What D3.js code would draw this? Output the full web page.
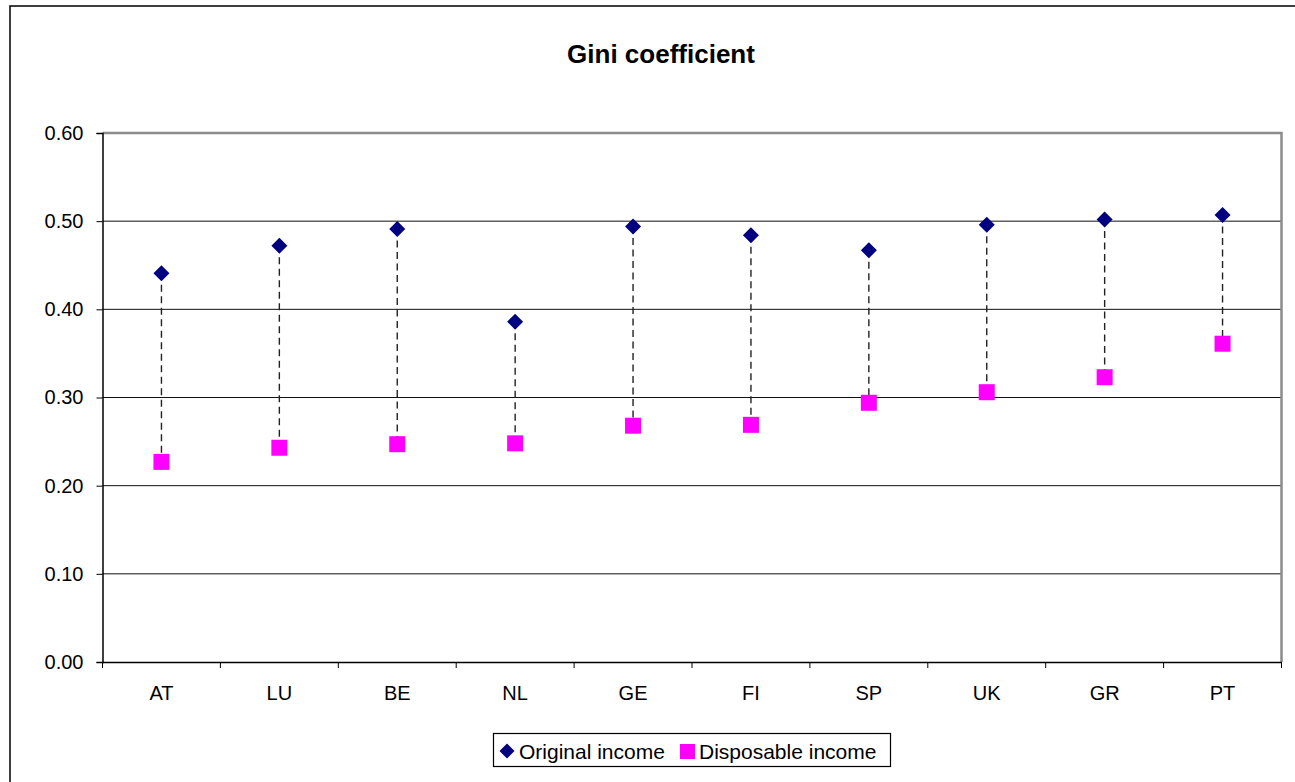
<!DOCTYPE html>
<html>
<head>
<meta charset="utf-8">
<script src="https://cdn.jsdelivr.net/npm/d3@7"></script>
<style>
  body { margin: 0; background: #fff; }
  svg { display: block; font-family: Arial, "Liberation Sans", sans-serif; }
</style>
</head>
<body>
<script>
const width = 1295;
const height = 782;
const marginTop = 133;
const marginRight = 13.5;
const marginBottom = 120;
const marginLeft = 102.5;

// countries, in the order of the chart
const countries = ["AT", "LU", "BE", "NL", "GE", "FI", "SP", "UK", "GR", "PT"];
// Gini on original (market) income
const original = [0.441, 0.472, 0.491, 0.386, 0.494, 0.484, 0.467, 0.496, 0.502, 0.507];
// Gini on disposable income
const disposable = [0.227, 0.243, 0.247, 0.248, 0.268, 0.269, 0.294, 0.306, 0.323, 0.361];
const yTicks = [0, 0.1, 0.2, 0.3, 0.4, 0.5, 0.6];

const rows = countries.map((c, i) => ({ country: c, orig: original[i], disp: disposable[i] }));

const x = d3.scaleBand(countries, [marginLeft, width - marginRight]).padding(0);
const y = d3.scaleLinear([0, 0.6], [height - marginBottom, marginTop]);
const cx = (c) => x(c) + x.bandwidth() / 2;

const svg = d3.select("body").append("svg")
  .attr("width", width)
  .attr("height", height);

// chart frame
svg.append("rect")
  .attr("x", 10).attr("y", 6)
  .attr("width", width).attr("height", height)
  .attr("fill", "none").attr("stroke", "#000").attr("stroke-width", 1.5);

// title
svg.append("text")
  .attr("x", 661).attr("y", 56)
  .attr("text-anchor", "middle").attr("dominant-baseline", "middle")
  .attr("font-weight", "bold").attr("font-size", 26)
  .text("Gini coefficient");

// gridlines
svg.append("g")
  .selectAll("line")
  .data(yTicks.filter((d) => d > 0 && d < 0.6))
  .join("line")
  .attr("x1", marginLeft).attr("x2", width - marginRight)
  .attr("y1", (d) => y(d)).attr("y2", (d) => y(d))
  .attr("stroke", "#111").attr("stroke-width", 1);

// plot area top/right border (grey)
svg.append("path")
  .attr("d", `M${marginLeft},${y(0.6)}H${width - marginRight}V${y(0)}`)
  .attr("fill", "none").attr("stroke", "#8c8c8c").attr("stroke-width", 2.5);

// y axis
const yAxis = svg.append("g")
  .attr("transform", `translate(${marginLeft},0)`)
  .call(d3.axisLeft(y).tickValues(yTicks).tickFormat(d3.format(".2f")).tickSize(6).tickPadding(13));
yAxis.select(".domain").attr("stroke", "#000").attr("stroke-width", 1.5);
yAxis.selectAll(".tick line").attr("stroke", "#000");
yAxis.selectAll("text").attr("font-size", 20).attr("fill", "#000")
  .attr("font-family", "Arial, 'Liberation Sans', sans-serif");

// x axis: ticks at category boundaries
const xAxis = svg.append("g")
  .attr("transform", `translate(0,${y(0)})`)
  .call(d3.axisBottom(x).tickSize(0).tickPadding(24));
xAxis.select(".domain").attr("stroke", "#000").attr("stroke-width", 1.5);
xAxis.selectAll("text").attr("font-size", 20).attr("fill", "#000")
  .attr("font-family", "Arial, 'Liberation Sans', sans-serif");
xAxis.append("g")
  .selectAll("line")
  .data(countries.concat([null]))
  .join("line")
  .attr("x1", (d, i) => marginLeft + i * x.bandwidth())
  .attr("x2", (d, i) => marginLeft + i * x.bandwidth())
  .attr("y1", 0).attr("y2", 6)
  .attr("stroke", "#000");

// high-low dashed lines
svg.append("g")
  .selectAll("line")
  .data(rows)
  .join("line")
  .attr("x1", (d) => cx(d.country)).attr("x2", (d) => cx(d.country))
  .attr("y1", (d) => y(d.orig)).attr("y2", (d) => y(d.disp))
  .attr("stroke", "#222").attr("stroke-width", 1.4)
  .attr("stroke-dasharray", "7,4.5");

// original income diamonds
const diamond = (s) => `M0,${-s}L${s},0L0,${s}L${-s},0Z`;
svg.append("g")
  .selectAll("path")
  .data(rows)
  .join("path")
  .attr("transform", (d) => `translate(${cx(d.country)},${y(d.orig)})`)
  .attr("d", diamond(8))
  .attr("fill", "#000080");

// disposable income squares
svg.append("g")
  .selectAll("rect")
  .data(rows)
  .join("rect")
  .attr("x", (d) => cx(d.country) - 8)
  .attr("y", (d) => y(d.disp) - 8)
  .attr("width", 16).attr("height", 16)
  .attr("fill", "#ff00ff");

// legend
const legend = svg.append("g");
legend.append("rect")
  .attr("x", 493.5).attr("y", 733.5)
  .attr("width", 397).attr("height", 33)
  .attr("fill", "#fff").attr("stroke", "#000").attr("stroke-width", 1.2);
legend.append("path")
  .attr("transform", "translate(507,751)")
  .attr("d", diamond(7.5))
  .attr("fill", "#000080");
legend.append("text")
  .attr("x", 519).attr("y", 751).attr("dominant-baseline", "central")
  .attr("font-size", 21).text("Original income");
legend.append("rect")
  .attr("x", 680).attr("y", 744).attr("width", 15).attr("height", 15)
  .attr("fill", "#ff00ff");
legend.append("text")
  .attr("x", 699).attr("y", 751).attr("dominant-baseline", "central")
  .attr("font-size", 21).text("Disposable income");
</script>
</body>
</html>
